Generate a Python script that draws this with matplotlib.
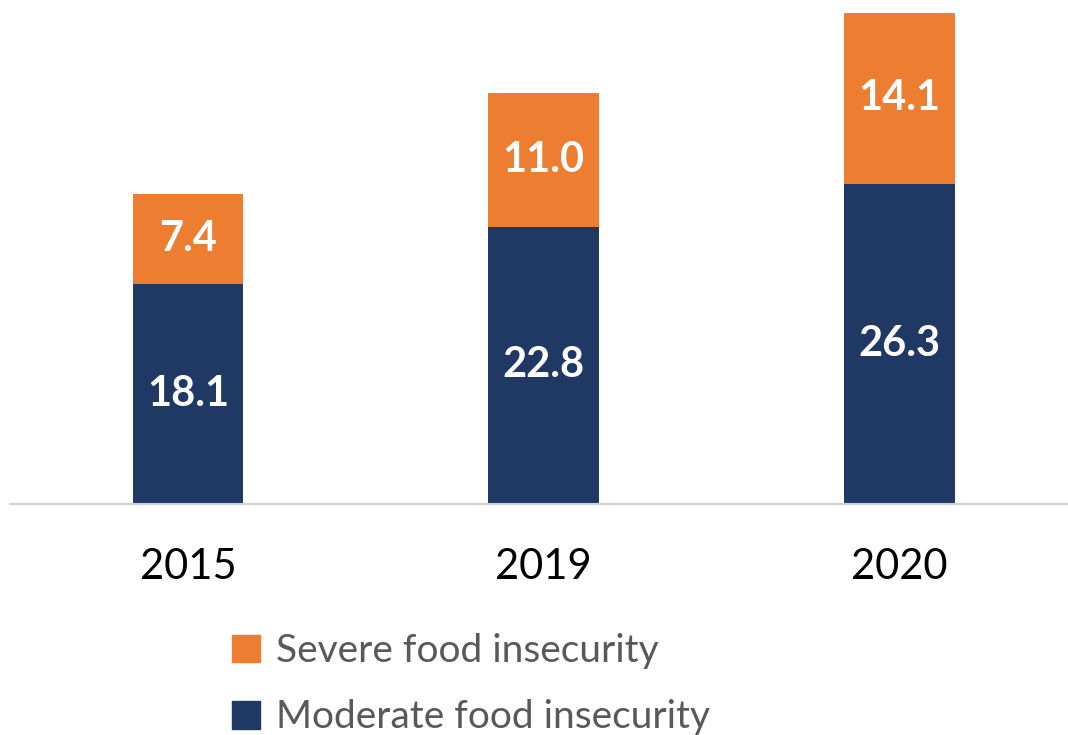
import matplotlib.pyplot as plt
from matplotlib.patches import Patch

# Data
years = ["2015", "2019", "2020"]
moderate = [18.1, 22.8, 26.3]
severe = [7.4, 11.0, 14.1]

navy = "#203864"
orange = "#ED7D31"

plt.rcParams["font.family"] = ["Lato", "DejaVu Sans"]

fig = plt.figure(figsize=(10.68, 7.35), dpi=100)
ax = fig.add_axes([10 / 1068, 231 / 735, 1058 / 1068, 504 / 735])

x = list(range(len(years)))
width = 0.312

bars_mod = ax.bar(x, moderate, width, color=navy, zorder=2)
bars_sev = ax.bar(x, severe, width, bottom=moderate, color=orange, zorder=2)

# value labels in the middle of each segment
for i in x:
    ax.text(i, moderate[i] / 2, f"{moderate[i]:.1f}", ha="center", va="center",
            color="white", fontsize=30, fontweight="bold")
    ax.text(i, moderate[i] + severe[i] / 2, f"{severe[i]:.1f}", ha="center", va="center",
            color="white", fontsize=30, fontweight="bold")

ax.set_xlim(-0.5007, 2.475)
ax.set_ylim(0, 41.45)

for s in ["top", "right", "left"]:
    ax.spines[s].set_visible(False)
ax.spines["bottom"].set_color("#d0d0d0")
ax.spines["bottom"].set_linewidth(1.5)
ax.set_yticks([])
ax.set_xticks(x)
ax.set_xticklabels(years, fontsize=30, color="black")
ax.tick_params(axis="x", length=0, pad=32)

handles = [Patch(color=orange), Patch(color=navy)]
labels = ["Severe food insecurity", "Moderate food insecurity"]
fig.legend(handles, labels, loc="upper left", bbox_to_anchor=(232 / 1068, 1 - 633 / 735),
           frameon=False, fontsize=28, labelcolor="#595959",
           handlelength=0.72, handleheight=0.72, handletextpad=0.42, labelspacing=0.78,
           borderpad=0, borderaxespad=0)

fig.savefig("out.png", dpi=100)
